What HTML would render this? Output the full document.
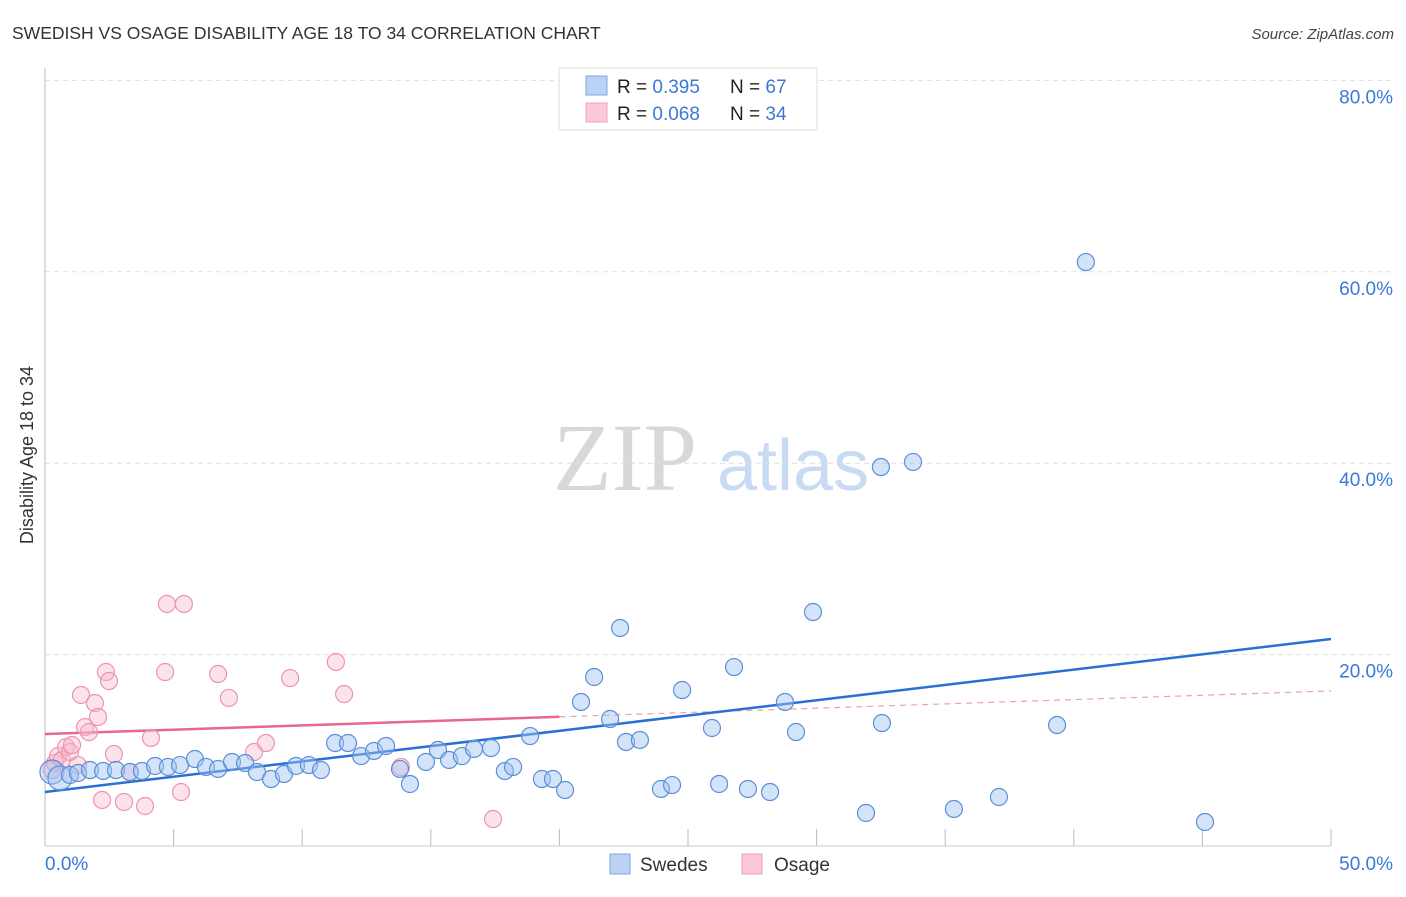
<!DOCTYPE html>
<html><head><meta charset="utf-8"><style>
body{margin:0;background:#fff;font-family:"Liberation Sans",sans-serif}
</style></head><body>
<svg id="chart" width="1406" height="892" xmlns="http://www.w3.org/2000/svg" font-family="Liberation Sans, sans-serif">
<text x="12" y="39" font-size="17.5" fill="#333">SWEDISH VS OSAGE DISABILITY AGE 18 TO 34 CORRELATION CHART</text>
<text x="1394" y="39" font-size="15" fill="#444" font-style="italic" text-anchor="end">Source: ZipAtlas.com</text>
<g>
<text x="553" y="490" font-size="96" fill="#d8d8d8" font-family="Liberation Serif, serif">ZIP</text>
<text x="717" y="490" font-size="72" fill="#c9dbf3">atlas</text>
</g>
<g id="grid"></g>
<g id="axes"></g>
<text transform="translate(33,455) rotate(-90)" font-size="18" fill="#333" text-anchor="middle">Disability Age 18 to 34</text>
<g id="trends"></g>
<g id="points"></g>
<g>
<rect x="559" y="68" width="258" height="62" fill="#fff" stroke="#ddd"/>
<rect x="586" y="76" width="21" height="19" fill="#b9d2f5" stroke="#7fa9e6"/>
<rect x="586" y="103" width="21" height="19" fill="#fbc9d7" stroke="#eea1b7"/>
<text x="617" y="93" font-size="19" fill="#222">R = <tspan fill="#3b78d8">0.395</tspan></text>
<text x="730" y="93" font-size="19" fill="#222">N = <tspan fill="#3b78d8">67</tspan></text>
<text x="617" y="120" font-size="19" fill="#222">R = <tspan fill="#3b78d8">0.068</tspan></text>
<text x="730" y="120" font-size="19" fill="#222">N = <tspan fill="#3b78d8">34</tspan></text>
</g>
<g>
<rect x="610" y="854" width="20" height="20" fill="#b9d2f5" stroke="#7fa9e6"/>
<text x="640" y="871" font-size="19" fill="#333">Swedes</text>
<rect x="742" y="854" width="20" height="20" fill="#fbc9d7" stroke="#eea1b7"/>
<text x="774" y="871" font-size="19" fill="#333">Osage</text>
</g>
</svg>
<script>
const xTicks=[0,5,10,15,20,25,30,35,40,45,50];
const yTicks=[20,40,60,80];
const swedesX=[0.27,0.58,0.97,1.28,1.75,2.26,2.76,3.30,3.77,4.28,4.78,5.25,5.83,6.26,6.73,7.27,7.78,8.24,8.79,9.29,9.76,10.26,10.73,11.28,11.78,12.29,12.79,13.26,13.80,14.19,14.81,15.28,15.71,16.21,16.68,17.34,17.88,18.20,18.86,19.32,19.75,20.22,20.84,21.35,21.97,22.36,22.59,23.13,23.95,24.38,24.77,25.93,26.21,26.79,27.33,28.19,28.77,29.20,29.86,31.92,32.50,32.54,33.75,35.34,37.09,39.35,40.47,45.10];
const swedesY=[7.73,7.11,7.42,7.63,7.94,7.84,7.94,7.73,7.84,8.36,8.26,8.46,9.09,8.26,8.05,8.78,8.67,7.73,7.00,7.52,8.36,8.46,7.94,10.76,10.76,9.40,9.93,10.45,8.05,6.48,8.78,10.03,8.99,9.40,10.14,10.24,7.84,8.26,11.49,7.00,7.00,5.85,15.05,17.66,13.27,22.78,10.87,11.08,5.96,6.37,16.30,12.33,6.48,18.70,5.96,5.64,15.05,11.91,24.45,3.45,39.60,12.85,40.13,3.87,5.12,12.64,61.02,2.51];
const osageX=[0.27,0.39,0.51,0.66,0.82,0.97,1.05,1.28,1.40,1.56,1.71,1.94,2.06,2.22,2.37,2.49,2.68,3.07,3.30,3.89,4.12,4.67,4.74,5.29,5.40,6.73,7.15,8.13,8.59,9.53,11.31,11.63,13.84,17.42];
const osageY=[7.94,8.67,9.40,8.99,10.34,9.82,10.55,8.46,15.78,12.43,11.91,14.94,13.48,4.81,18.18,17.24,9.61,4.60,7.73,4.18,11.29,18.18,25.29,5.64,25.29,17.97,15.47,9.82,10.76,17.55,19.23,15.88,8.26,2.82];
const swedesTrend=[5.64,21.63];
const osageTrend=[11.70,16.20];
const NS='http://www.w3.org/2000/svg';
const X=v=>45+v*(1286/50);
const Y=v=>846-v*9.57;
function mk(tag,attrs,parent){const e=document.createElementNS(NS,tag);for(const k in attrs)e.setAttribute(k,attrs[k]);document.getElementById(parent).appendChild(e);return e;}
yTicks.forEach(t=>{
 const l=mk('line',{x1:45,x2:1394,y1:Y(t),y2:Y(t),stroke:'#ddd','stroke-dasharray':'5,4'},'grid');
 
 
 const tx=mk('text',{x:1393,y:Y(t)+23,'font-size':19,fill:'#3b78d8','text-anchor':'end'},'grid');
 tx.textContent=t.toFixed(1)+'%';
 
 
});
const ax=mk('line',{x1:45,x2:45,y1:68,y2:846,stroke:'#bbb'},'axes');


const bx=mk('line',{x1:45,x2:1331,y1:846,y2:846,stroke:'#ccc'},'axes');


xTicks.forEach(t=>{
 const l=mk('line',{x1:X(t),x2:X(t),y1:829,y2:846,stroke:'#bbb'},'axes');
 
 
});
[[0,'start'],[50,'end']].forEach(([t,a])=>{
 const tx=mk('text',{x:t===0?45:1393,y:870,'font-size':19,fill:'#3b78d8','text-anchor':a},'axes');
 tx.textContent=t.toFixed(1)+'%';
 
 
});
const osY=x=>osageTrend[0]+(osageTrend[1]-osageTrend[0])*x/50;
const swY=x=>swedesTrend[0]+(swedesTrend[1]-swedesTrend[0])*x/50;
let t1=mk('line',{x1:X(0),y1:Y(osY(0)),x2:X(20),y2:Y(osY(20)),stroke:'#e8668f','stroke-width':2.5},'trends');


let t2=mk('line',{x1:X(20),y1:Y(osY(20)),x2:X(50),y2:Y(osY(50)),stroke:'#e8a0b5','stroke-width':1.2,'stroke-dasharray':'6,5'},'trends');


let t3=mk('line',{x1:X(0),y1:Y(swY(0)),x2:X(50),y2:Y(swY(50)),stroke:'#2a6fd6','stroke-width':2.5},'trends');


osageX.forEach((x,i)=>{
 const c=mk('circle',{cx:X(x),cy:Y(osageY[i]),r:8.5,fill:'rgba(248,185,205,0.4)',stroke:'#ec94ae','stroke-width':1.2},'points');
 
 
});
swedesX.forEach((x,i)=>{
 const c=mk('circle',{cx:X(x),cy:Y(swedesY[i]),r:i<2?12:8.5,fill:'rgba(160,196,240,0.45)',stroke:'#5b8fd9','stroke-width':1.2},'points');
 
 
});
</script>
</body></html>
